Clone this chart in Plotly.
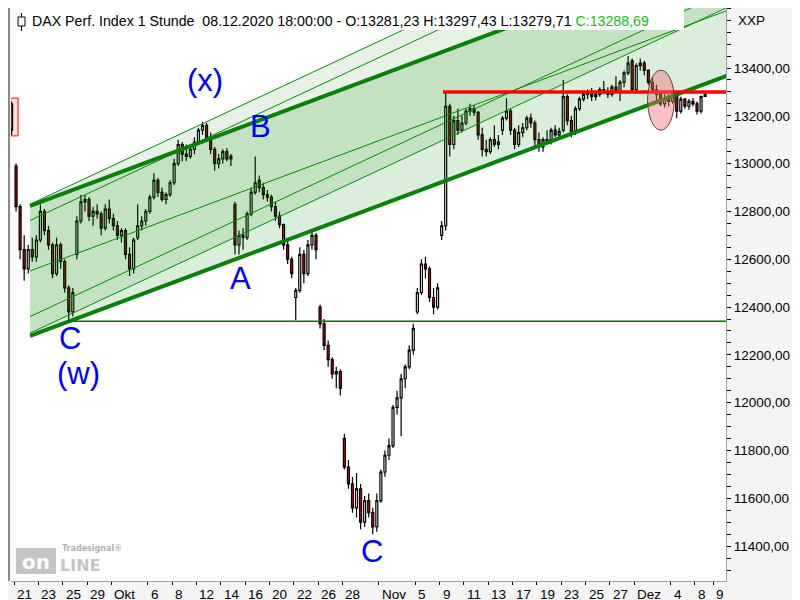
import plotly.graph_objects as go

# ---------------- data (hourly DAX, ~3 candles per trading day) ----------------
day_labels = ["21", "23", "25", "29", "Okt", "6", "8", "12", "14", "16", "20", "22", "26", "28",
              "Nov", "5", "9", "11", "13", "17", "19", "23", "25", "27", "Dez", "4", "8", "9"]
day_ticks = [0, 2, 4, 6, 8, 11, 13, 15, 17, 19, 21, 23, 25, 27,
             30, 33, 35, 37, 39, 41, 43, 45, 47, 49, 51, 54, 56, 57.5]

price_ticks = [11400, 11600, 11800, 12000, 12200, 12400, 12600, 12800, 13000, 13200, 13400]
price_labels = ["11400,00", "11600,00", "11800,00", "12000,00", "12200,00", "12400,00",
                "12600,00", "12800,00", "13000,00", "13200,00", "13400,00"]

opens = [13250,
    12990, 12820, 12640,  12560, 12640, 12610,  12680, 12800, 12720,  12660, 12540, 12660,  12590, 12480, 12380,
    12620, 12760, 12840,  12850, 12780, 12800,  12790, 12730, 12810,  12770, 12740, 12700,  12720, 12620, 12560,
    12690, 12740, 12760,  12800, 12860, 12930,  12880, 12850, 12870,  12920, 13000, 13080,  13040, 13030, 13060,
    13090, 13140, 13160,  13110, 13060, 13000,  13020, 13050, 13020,  12830, 12660, 12700,  12690, 12790, 12880,
    12930, 12900, 12870,  12860, 12820, 12780,  12745, 12660, 12600,  12440, 12470, 12620,  12540, 12660, 12700,
    12400, 12330, 12240,  12180, 12120, 12130,  11850, 11730, 11660,  11560, 11640, 11500,  11590, 11540, 11480,
    11590, 11710, 11780,  11820, 11980, 12020,  12100, 12150, 12220,  12380, 12460, 12580,  12560, 12440, 12400,
    12700, 12740, 13240,  13080, 13180, 13140,  13170, 13220, 13230,  13215, 13120, 13060,  13050, 13100, 13080,
    13140, 13190, 13220,  13140, 13080, 13130,  13150, 13190, 13170,  13100, 13070, 13100,  13090, 13140, 13120,
    13140, 13280, 13180,  13130, 13230, 13270,  13290, 13300, 13280,  13290, 13310, 13300,  13290, 13320, 13300,
    13340, 13380, 13430,  13310, 13410, 13420,  13390, 13340, 13310,  13290, 13250, 13270,  13260, 13290, 13220,
    13270, 13240, 13260,  13250, 13220, 13281.23]
highs = [13260,
    13000, 12830, 12700,  12660, 12690, 12700,  12830, 12810, 12740,  12670, 12690, 12670,  12600, 12490, 12480,
    12780, 12870, 12870,  12860, 12820, 12830,  12800, 12830, 12850,  12790, 12760, 12730,  12730, 12650, 12690,
    12830, 12780, 12810,  12870, 12960, 12940,  12900, 12880, 12930,  13020, 13100, 13090,  13080, 13070, 13110,
    13150, 13175, 13170,  13130, 13070, 13040,  13060, 13065, 13040,  12840, 12720, 12730,  12800, 12900, 13030,
    12950, 12920, 12890,  12870, 12840, 12800,  12750, 12680, 12610,  12480, 12650, 12640,  12680, 12720, 12710,
    12410, 12350, 12260,  12190, 12150, 12140,  11870, 11760, 11690,  11706, 11660, 11610,  11620, 11560, 11620,
    11720, 11800, 11850,  11990, 12050, 12120,  12160, 12240, 12330,  12480, 12600, 12610,  12570, 12480, 12500,
    12760, 13297, 13250,  13200, 13230, 13200,  13230, 13250, 13245,  13220, 13150, 13100,  13110, 13160, 13120,
    13200, 13275, 13230,  13150, 13160, 13170,  13200, 13210, 13180,  13130, 13110, 13140,  13150, 13160, 13150,
    13350, 13290, 13200,  13240, 13280, 13305,  13310, 13316, 13300,  13320, 13346, 13320,  13330, 13366, 13350,
    13390, 13450, 13440,  13420, 13440, 13430,  13395, 13360, 13330,  13300, 13290, 13290,  13300, 13300, 13280,
    13275, 13270, 13275,  13260, 13285, 13297.43]
lows = [13120,
    12800, 12600, 12510,  12540, 12590, 12590,  12670, 12700, 12640,  12520, 12530, 12560,  12460, 12340, 12360,
    12600, 12750, 12800,  12760, 12740, 12770,  12700, 12720, 12750,  12720, 12680, 12670,  12600, 12530, 12540,
    12680, 12720, 12740,  12790, 12850, 12860,  12840, 12830, 12860,  12910, 12990, 13010,  13010, 13020, 13040,
    13080, 13120, 13090,  13040, 12970, 12980,  13000, 13010, 12990,  12620, 12620, 12640,  12680, 12780, 12870,
    12880, 12850, 12840,  12800, 12760, 12730,  12640, 12580, 12520,  12345, 12460, 12500,  12530, 12640, 12600,
    12310, 12220, 12150,  12100, 12060, 12030,  11720, 11640, 11540,  11520, 11470, 11480,  11520, 11450, 11460,
    11580, 11690, 11760,  11810, 11950, 11860,  12060, 12140, 12200,  12370, 12450, 12520,  12420, 12370, 12390,
    12680, 12720, 13030,  13060, 13120, 13130,  13160, 13200, 13200,  13100, 13030, 13030,  13040, 13070, 13060,
    13120, 13180, 13120,  13060, 13070, 13110,  13140, 13150, 13070,  13050, 13050, 13080,  13080, 13110, 13110,
    13130, 13160, 13110,  13120, 13220, 13260,  13270, 13262, 13265,  13280, 13290, 13274,  13280, 13300, 13262,
    13320, 13370, 13295,  13300, 13390, 13370,  13330, 13300, 13262,  13240, 13235, 13240,  13250, 13190, 13210,
    13230, 13225, 13240,  13205, 13210, 13279.71]
closes = [13140,
    12820, 12640, 12560,  12640, 12610, 12680,  12800, 12720, 12660,  12540, 12660, 12590,  12480, 12380, 12460,
    12760, 12840, 12850,  12780, 12800, 12790,  12730, 12810, 12770,  12740, 12700, 12720,  12620, 12560, 12680,
    12740, 12760, 12800,  12860, 12930, 12880,  12850, 12870, 12920,  13000, 13080, 13040,  13030, 13060, 13090,
    13140, 13160, 13110,  13060, 13000, 13020,  13050, 13020, 13030,  12660, 12700, 12690,  12790, 12880, 12920,
    12900, 12870, 12860,  12820, 12780, 12745,  12660, 12600, 12540,  12470, 12620, 12540,  12660, 12700, 12640,
    12330, 12240, 12180,  12120, 12130, 12060,  11730, 11660, 11560,  11640, 11500, 11590,  11540, 11480, 11590,
    11710, 11780, 11820,  11980, 12020, 12100,  12150, 12220, 12310,  12460, 12580, 12560,  12440, 12400, 12480,
    12740, 13240, 13080,  13180, 13140, 13170,  13220, 13230, 13215,  13120, 13060, 13050,  13100, 13080, 13090,
    13190, 13220, 13140,  13080, 13130, 13150,  13190, 13170, 13100,  13070, 13100, 13090,  13140, 13120, 13135,
    13280, 13180, 13130,  13230, 13270, 13290,  13300, 13280, 13290,  13310, 13300, 13290,  13320, 13300, 13340,
    13380, 13420, 13310,  13410, 13420, 13390,  13340, 13310, 13290,  13250, 13270, 13260,  13290, 13220, 13270,
    13240, 13260, 13250,  13220, 13280, 13288.69]

# time position of each candle (trading-day index; first one is the last bar of 18.09.)
slots = [1 / 6, 1 / 2, 5 / 6]
candle_x = [-0.2] + [d + s for d in range(57) for s in slots]

# drawn trend channels (anchor value at start day, slope in points per trading day)
ch_start, ch_end = 1.316, 58.6
main_upper0, main_mid0, main_lower0, main_slope = 12823, 12551, 12279, 19.0
ch2_lines0 = [12830, 12762, 12360, 12291]
ch2_slope = 23.76
support_level, support_start = 12341, 4.44
resist_level, resist_start = 13300, 35.28

# ---------------- figure ----------------
fig = go.Figure()


def line_y(v0, slope, d):
    return v0 + slope * (d - ch_start)


# channel fills
fig.add_trace(go.Scatter(
    x=[ch_start, ch_end, ch_end, ch_start],
    y=[line_y(main_upper0, main_slope, ch_start), line_y(main_upper0, main_slope, ch_end),
       line_y(main_lower0, main_slope, ch_end), line_y(main_lower0, main_slope, ch_start)],
    fill="toself", fillcolor="rgba(0,128,0,0.14)", line=dict(width=0), mode="lines",
    hoverinfo="skip", showlegend=False))
fig.add_trace(go.Scatter(
    x=[ch_start, ch_end, ch_end, ch_start],
    y=[line_y(ch2_lines0[0], ch2_slope, ch_start), line_y(ch2_lines0[0], ch2_slope, ch_end),
       line_y(ch2_lines0[3], ch2_slope, ch_end), line_y(ch2_lines0[3], ch2_slope, ch_start)],
    fill="toself", fillcolor="rgba(0,128,0,0.10)", line=dict(width=0), mode="lines",
    hoverinfo="skip", showlegend=False))

# thin lines
for v0 in ch2_lines0:
    fig.add_trace(go.Scatter(x=[ch_start, ch_end],
                             y=[line_y(v0, ch2_slope, ch_start), line_y(v0, ch2_slope, ch_end)],
                             mode="lines", line=dict(color="#0a8a0a", width=1),
                             hoverinfo="skip", showlegend=False))
fig.add_trace(go.Scatter(x=[ch_start, ch_end],
                         y=[line_y(main_mid0, main_slope, ch_start), line_y(main_mid0, main_slope, ch_end)],
                         mode="lines", line=dict(color="#0a8a0a", width=1),
                         hoverinfo="skip", showlegend=False))

# candles
fig.add_trace(go.Candlestick(
    x=candle_x, open=opens, high=highs, low=lows, close=closes,
    increasing=dict(fillcolor="white", line=dict(color="black", width=1.2)),
    decreasing=dict(fillcolor="#e00000", line=dict(color="black", width=1.2)),
    whiskerwidth=0, hoverinfo="skip", showlegend=False))

# thick channel lines
for v0 in (main_upper0, main_lower0):
    fig.add_trace(go.Scatter(x=[ch_start, ch_end],
                             y=[line_y(v0, main_slope, ch_start), line_y(v0, main_slope, ch_end)],
                             mode="lines", line=dict(color="#078107", width=4),
                             hoverinfo="skip", showlegend=False))

# horizontal lines
fig.add_trace(go.Scatter(x=[support_start, ch_end], y=[support_level, support_level],
                         mode="lines", line=dict(color="#0a700a", width=1.5),
                         hoverinfo="skip", showlegend=False))
fig.add_trace(go.Scatter(x=[resist_start, ch_end], y=[resist_level, resist_level],
                         mode="lines", line=dict(color="#ff0000", width=3.5),
                         hoverinfo="skip", showlegend=False))

# px -> paper helpers for decorations
PL, PR, PB = 3, 718, 573


def px(xp):
    return (xp - PL) / (PR - PL)


def py(yp):
    return (PB - yp) / PB


shapes = [
    # ellipse highlight
    dict(type="circle", xref="x", yref="y", x0=52.1, x1=54.3, y0=13140, y1=13391,
         fillcolor="rgba(240,110,110,0.42)", line=dict(color="#6a3a3a", width=1), layer="above"),
    # small pink box at far left
    dict(type="rect", xref="x", yref="y", x0=-0.3, x1=0.33, y0=13116, y1=13274,
         fillcolor="rgba(255,205,195,0.55)", line=dict(color="red", width=1), layer="below"),
    # white header box
    dict(type="rect", xref="paper", yref="paper", x0=0, x1=px(676), y0=py(22), y1=1.0,
         fillcolor="white", line=dict(width=0), layer="above"),
    # candle icon
    dict(type="line", xref="paper", yref="paper", x0=px(13.5), x1=px(13.5), y0=py(23), y1=py(5),
         line=dict(color="black", width=1), layer="above"),
    dict(type="rect", xref="paper", yref="paper", x0=px(10), x1=px(17), y0=py(18), y1=py(9),
         fillcolor="white", line=dict(color="black", width=1), layer="above"),
    # left border
    dict(type="rect", xref="paper", yref="paper", x0=px(0), x1=px(2), y0=0, y1=1,
         fillcolor="#8a8a8a", line=dict(width=0), layer="above"),
    # watermark box
    dict(type="rect", xref="paper", yref="paper", x0=px(8), x1=px(48), y0=py(566), y1=py(540),
         fillcolor="#c4c4c4", line=dict(width=0), layer="above"),
]

wave_font = dict(family="Liberation Sans, Arial", size=31, color="#0000ff")
annotations = [
    dict(x=15.7, y=13346, text="(x)", showarrow=False, font=wave_font),
    dict(x=20.23, y=13157, text="B", showarrow=False, font=wave_font),
    dict(x=18.59, y=12521, text="A", showarrow=False, font=wave_font),
    dict(x=4.6, y=12270, text="C", showarrow=False, font=wave_font),
    dict(x=5.26, y=12124, text="(w)", showarrow=False, font=wave_font),
    dict(x=29.44, y=11379, text="C", showarrow=False, font=wave_font),
    dict(xref="paper", yref="paper", x=px(22), y=py(12.5), xanchor="left", yanchor="middle",
         showarrow=False, font=dict(family="Liberation Sans, Arial", size=14.2, color="black"),
         text="DAX Perf. Index 1 Stunde\u00a0\u00a008.12.2020 18:00:00 - O:13281,23 H:13297,43 "
              "L:13279,71 <span style='color:#12c012'>C:13288,69</span>"),
    dict(xref="paper", yref="paper", x=px(728), y=py(12.5), xanchor="left", yanchor="middle",
         showarrow=False, font=dict(family="Liberation Sans, Arial", size=13.5, color="black"),
         text="XXP"),
    dict(xref="paper", yref="paper", x=px(28), y=py(554), xanchor="center", yanchor="middle",
         showarrow=False, font=dict(family="DejaVu Sans", size=20, color="white"),
         text="<b>on</b>"),
    dict(xref="paper", yref="paper", x=px(50), y=py(557), xanchor="left", yanchor="middle",
         showarrow=False, font=dict(family="DejaVu Sans", size=16, color="#c4c4c4"),
         text="<b>LINE</b>"),
    dict(xref="paper", yref="paper", x=px(52), y=py(540), xanchor="left", yanchor="middle",
         showarrow=False, font=dict(family="DejaVu Sans", size=8, color="#b0b0b0"),
         text="<b>Tradesignal®</b>"),
]
# date labels: left-aligned just right of each tick mark, as in the reference
for tv, tl in zip(day_ticks, day_labels):
    annotations.append(dict(xref="x", yref="paper", x=tv, y=py(577), xanchor="left",
                            yanchor="top", xshift=1, showarrow=False, text=tl,
                            font=dict(family="Liberation Sans, Arial", size=13.5, color="black")))

fig.update_layout(
    width=800, height=600,
    margin=dict(l=PL, r=800 - PR, t=0, b=600 - PB),
    paper_bgcolor="#f4f4f4", plot_bgcolor="white",
    shapes=shapes, annotations=annotations,
    showlegend=False, hovermode=False,
    xaxis=dict(range=[-0.25, 58.55], tickmode="array", tickvals=day_ticks,
               showticklabels=False,
               ticks="outside", ticklen=3, tickcolor="black", showgrid=False, zeroline=False,
               showline=True, linecolor="#a0a0a0",
               rangeslider=dict(visible=False)),
    yaxis=dict(side="right", range=[11254, 13651], tickmode="array", tickvals=price_ticks,
               ticktext=price_labels, ticks="outside", ticklen=4, tickcolor="black",
               showgrid=False, zeroline=False, showline=True, linecolor="#a0a0a0",
               minor=dict(dtick=50, tick0=0, ticks="outside", ticklen=4, tickcolor="black",
                          showgrid=False),
               tickfont=dict(family="Liberation Sans, Arial", size=13.5, color="black")),
)

fig.write_html("out.html")
